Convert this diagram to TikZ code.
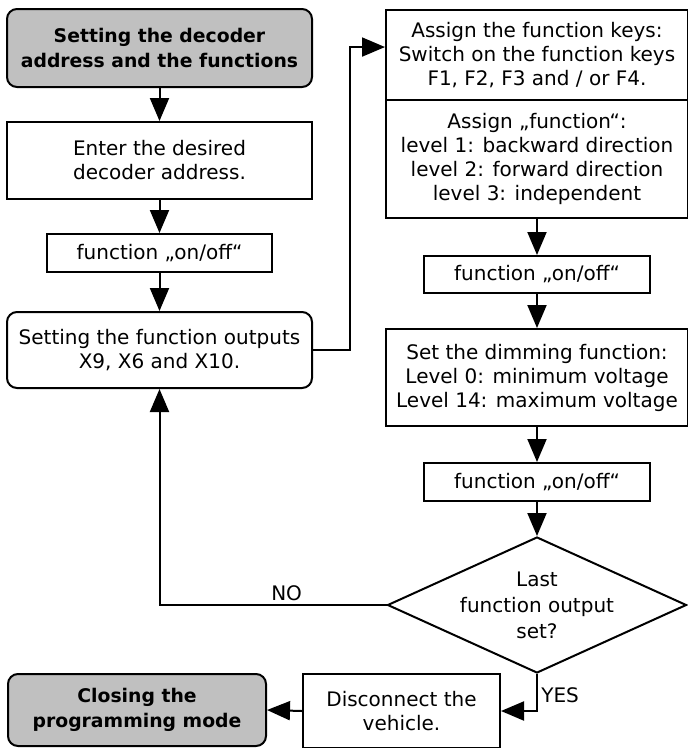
\documentclass[tikz,border=0pt]{standalone}
\usepackage{fontspec}
\setmainfont{DejaVu Sans}
\usepackage{tikz}
\usetikzlibrary{%
	arrows.meta,%
	shapes.geometric%
}
\definecolor{Terminal}{HTML}{C0C0C0}
\tikzset{
	every node/.style={font=\fontsize{20}{24}\selectfont},
	box/.style={draw,line width=2pt,align=center,inner sep=0pt},
	roundbox/.style={box,rounded corners=10pt},
	terminal/.style={roundbox,fill=Terminal,font=\fontsize{18.8}{25}\selectfont\bfseries},
	decision/.style={box,diamond,inner sep=0pt},
	flow/.style={-{Triangle[length=23pt,width=19pt]},line width=2pt}
}

\begin{document}
\begin{tikzpicture}[x=1pt,y=-1pt]
\useasboundingbox (0,0) rectangle (688,748);
% Left column
\node [terminal,minimum width=305,minimum height=78] (begin) at (159.5,48) {Setting the decoder\\address and the functions};
\node [box,minimum width=305,minimum height=77] (address) at (159.5,160.5) {Enter the desired\\decoder address.};
\node [box,minimum width=225,minimum height=38] (onoffa) at (159.5,253) {function „on/off“};
\node [roundbox,minimum width=305,minimum height=76] (outputs) at (159.5,350) {Setting the function outputs\\X9, X6 and X10.};
% Right column
\node [box,minimum width=302,minimum height=90] (fkeys) at (537,55) {Assign the function keys:\\Switch on the function keys\\F1, F2, F3 and / or F4.};
\node [box,minimum width=302,minimum height=118] (fassign) at (537,159) {Assign „function“:\\level 1: backward direction\\level 2: forward direction\\level 3: independent};
\node [box,minimum width=226,minimum height=37] (onoffb) at (537,274.5) {function „on/off“};
\node [box,minimum width=302,minimum height=97] (dimming) at (537,377.5) {Set the dimming function:\\Level 0: minimum voltage\\Level 14: maximum voltage};
\node [box,minimum width=226,minimum height=38] (onoffc) at (537,482) {function „on/off“};
\node [decision,minimum width=299,minimum height=136,
	label={[align=center,font=\fontsize{20}{26}\selectfont]center:Last\\function output\\set?}] (lastout) at (537,605) {};
% Bottom row
\node [box,minimum width=197,minimum height=74] (disconnect) at (401.5,711) {Disconnect the\\vehicle.};
\node [terminal,minimum width=258,minimum height=72] (closing) at (137,710) {Closing the\\programming mode};
% Arrows
\draw [flow] (begin) -- (address);
\draw [flow] (address) -- (onoffa);
\draw [flow] (onoffa) -- (outputs);
\draw [flow] (outputs.east) -- ++(37,0) |- (fkeys.177);
\draw [flow] (fassign) -- (onoffb);
\draw [flow] (onoffb) -- (dimming);
\draw [flow] (dimming) -- (onoffc);
\draw [flow] (onoffc) -- (lastout);
\draw [flow] (lastout.west) -| node [pos=0.22,above] {NO} (outputs.south);
\draw [flow] (lastout.south) |- node [pos=0.29,right] {YES} (disconnect.east);
\draw [flow] (disconnect.west) -- (closing.east);
\end{tikzpicture}
\end{document}
